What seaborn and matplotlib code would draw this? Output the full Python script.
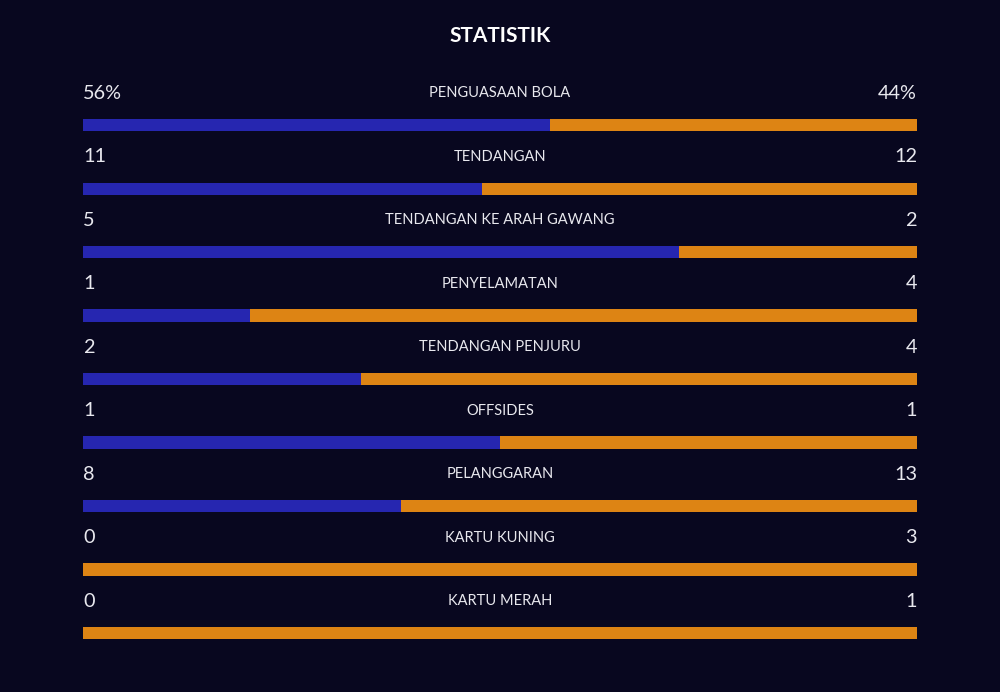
import pandas as pd
import matplotlib.pyplot as plt
import seaborn as sns

# ----------- DATA ------------
stats = ['PENGUASAAN BOLA', 'TENDANGAN', 'TENDANGAN KE ARAH GAWANG', 'PENYELAMATAN',
         'TENDANGAN PENJURU', 'OFFSIDES', 'PELANGGARAN', 'KARTU KUNING', 'KARTU MERAH']
home = [56, 11, 5, 1, 2, 1, 8, 0, 0]
away = [44, 12, 2, 4, 4, 1, 13, 3, 1]
home_labels = ['56%', '11', '5', '1', '2', '1', '8', '0', '0']
away_labels = ['44%', '12', '2', '4', '4', '1', '13', '3', '1']

BG = '#08071f'
BLUE = '#2626b0'
ORANGE = '#dd8414'

df = pd.DataFrame({'stat': stats, 'home': home, 'away': away})
df['share'] = df['home'] / (df['home'] + df['away'])
df['full'] = 1.0

sns.set_style('dark')
plt.rcParams['font.family'] = ['Lato', 'DejaVu Sans']

fig = plt.figure(figsize=(10, 6.92), dpi=100, facecolor=BG)
ax = fig.add_axes([0.083, 0, 0.834, 1])
ax.set_facecolor(BG)

# orange = full bar, blue = home share on top
sns.barplot(data=df, y='stat', x='full', color=ORANGE, orient='h', width=0.19,
            saturation=1, linewidth=0, ax=ax)
sns.barplot(data=df, y='stat', x='share', color=BLUE, orient='h', width=0.19,
            saturation=1, linewidth=0, ax=ax)

ax.set_xlim(0, 1)
ax.set_ylim(8.93, -1.97)
ax.set_xlabel('')
ax.set_ylabel('')
ax.set_xticks([])
ax.set_yticks([])
for s in ax.spines.values():
    s.set_visible(False)

for i, name in enumerate(stats):
    y = i - 0.5
    ax.text(0, y, home_labels[i], color='#e8e8ee', fontsize=14.3, ha='left', va='center')
    ax.text(1, y, away_labels[i], color='#e8e8ee', fontsize=14.3, ha='right', va='center')
    ax.text(0.5, y, name, color='#e8e8ee', fontsize=10.5, ha='center', va='center')

ax.text(0.5, -1.4, 'STATISTIK', color='white', fontsize=15, fontweight='bold',
        ha='center', va='center')

fig.savefig('out.png', facecolor=BG)
